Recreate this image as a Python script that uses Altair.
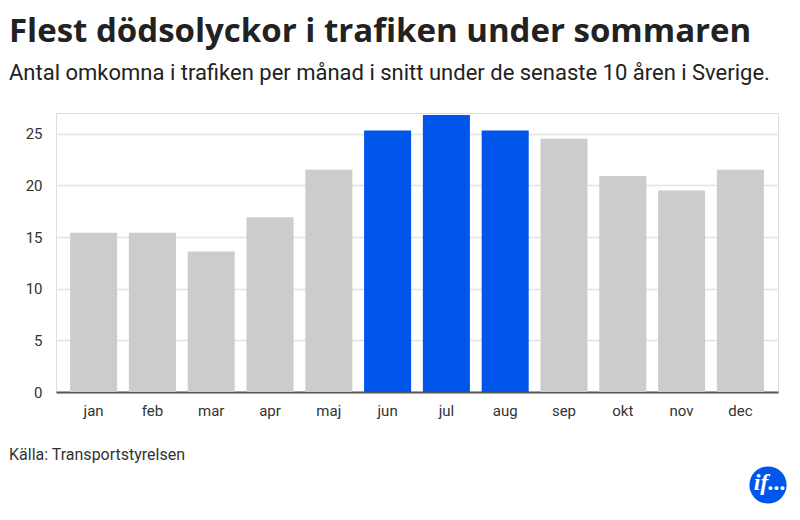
import altair as alt
import pandas as pd

months = ["jan", "feb", "mar", "apr", "maj", "jun", "jul", "aug", "sep", "okt", "nov", "dec"]
values = [15.4, 15.4, 13.6, 16.9, 21.5, 25.3, 26.8, 25.3, 24.5, 20.9, 19.5, 21.5]
summer = ["jun", "jul", "aug"]
y_ticks = [0, 5, 10, 15, 20, 25]

title_text = "Flest dödsolyckor i trafiken under sommaren"
subtitle_text = "Antal omkomna i trafiken per månad i snitt under de senaste 10 åren i Sverige."
source_text = "Källa: Transportstyrelsen"
logo_text = "if..."

FONT = "Roboto"
BLUE = "#0055eb"
GREY = "#cccccc"

df = pd.DataFrame({
    "month": months,
    "value": values,
    "group": ["sommar" if m in summer else "övrig" for m in months],
})

bars = alt.Chart(df).mark_bar().encode(
    x=alt.X(
        "month:N",
        sort=months,
        scale=alt.Scale(paddingInner=0.2, paddingOuter=0.24),
        axis=alt.Axis(
            title=None, labelAngle=0, ticks=False, labelPadding=11,
            labelFontSize=15, labelColor="#333333", labelFont=FONT,
            domainColor="#555555", domainWidth=2, grid=False,
        ),
    ),
    y=alt.Y(
        "value:Q",
        scale=alt.Scale(domain=[0, 27], nice=False),
        axis=alt.Axis(
            title=None, values=y_ticks, ticks=False, domain=False,
            labelPadding=14, labelFontSize=15, labelColor="#333333", labelFont=FONT,
            gridColor="#e3e3e3", gridWidth=1.5,
        ),
    ),
    color=alt.Color(
        "group:N",
        scale=alt.Scale(domain=["övrig", "sommar"], range=[GREY, BLUE]),
        legend=None,
    ),
)

source = alt.Chart(pd.DataFrame({"t": [source_text]})).mark_text(
    align="left", baseline="middle", fontSize=16, color="#333333", font=FONT
).encode(x=alt.value(-47), y=alt.value(342), text="t:N")

logo_circle = alt.Chart(pd.DataFrame({"t": [logo_text]})).mark_circle(
    size=1385, color=BLUE, opacity=1
).encode(x=alt.value(712), y=alt.value(372))

logo_label = alt.Chart(pd.DataFrame({"t": [logo_text]})).mark_text(
    align="center", baseline="middle", fontSize=24, color="white",
    font="Liberation Serif", fontStyle="italic", fontWeight="bold",
).encode(x=alt.value(714), y=alt.value(370), text="t:N")

chart = alt.layer(bars, source, logo_circle, logo_label).properties(
    width=722,
    height=279,
    autosize=alt.AutoSizeParams(type="none"),
    padding={"left": 48, "right": 12, "top": 105, "bottom": 114},
    title=alt.TitleParams(
        text=title_text,
        subtitle=subtitle_text,
        anchor="start",
        frame="group",
        dx=-47,
        offset=29,
        font="Open Sans",
        fontSize=33,
        fontWeight="bold",
        color="#222222",
        subtitleFont=FONT,
        subtitleFontSize=22,
        subtitleColor="#222222",
        subtitlePadding=14,
    ),
).configure_view(stroke=None).configure(background="white")

chart.save("out.html", embed_options={"renderer": "svg", "actions": False})
